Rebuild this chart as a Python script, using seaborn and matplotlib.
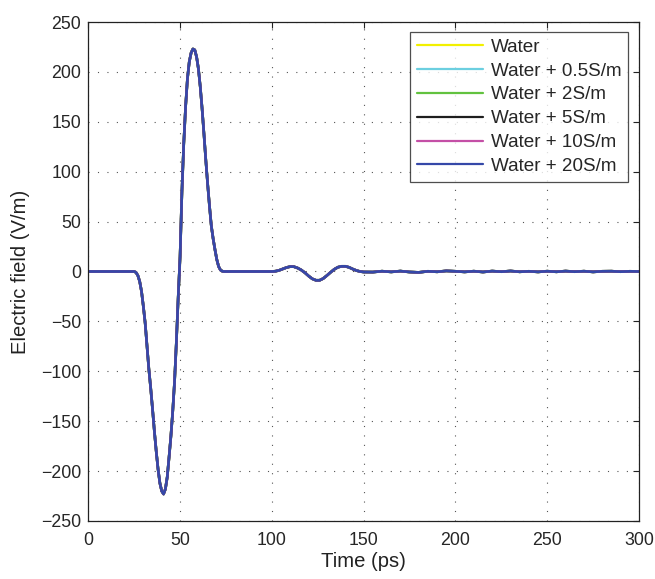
import numpy as np
import pandas as pd
import seaborn as sns
import matplotlib.pyplot as plt

# time axis (ps) and field (V/m)
time_ps = [0, 10, 20, 25, 26, 27, 28, 29, 30, 31, 32, 33, 34, 35, 36, 37, 38, 39, 40,
           41, 42, 43, 44, 45, 46, 47, 48, 49, 50, 51, 52, 53, 54, 55, 56, 57, 58,
           59, 60, 61, 62, 63, 64, 65, 66, 67, 68, 69, 70, 71, 72, 73, 74, 80, 90,
           100, 102, 104, 106, 108, 110, 112, 114, 116, 118, 120, 122, 124, 126, 128,
           130, 132, 134, 136, 138, 140, 142, 144, 146, 148, 150, 155, 160, 165, 170,
           175, 180, 185, 190, 195, 200, 205, 210, 215, 220, 225, 230, 235, 240, 245,
           250, 255, 260, 265, 270, 275, 280, 285, 290, 295, 300]
field = [0, 0, 0, 0, -1, -4, -10, -20, -35, -52, -75, -98, -117, -138, -160, -180, -198,
         -212, -220, -223, -218, -206, -186, -165, -140, -110, -70, -25, 15, 80, 128,
         165, 193, 210, 219, 223, 222, 215, 203, 185, 163, 138, 112, 88, 66, 46, 33,
         22, 12, 5, 1.5, 0.3, 0, 0, 0,
         0, 0.3, 1.2, 2.6, 4.0, 4.9, 4.8, 3.5, 1.5, -1.2, -4.5, -7.3, -8.8, -8.8, -7.0,
         -4.0, -0.8, 2.2, 4.3, 5.2, 5.2, 4.2, 2.5, 1.0, 0.0, -0.5, -0.6, 0.3, -0.4, 0.4,
         -0.5, -0.9, 0.2, -0.3, 0.6, 0.2, -0.4, 0.3, -0.5, 0.4, -0.2, 0.5, -0.3, 0.2,
         -0.4, 0.3, -0.3, 0.4, -0.2, 0.3, -0.4, 0.2, 0.3, -0.2, 0.2, 0]

media = ["Water", "Water + 0.5S/m", "Water + 2S/m", "Water + 5S/m",
         "Water + 10S/m", "Water + 20S/m"]
colors = ["#f2f000", "#6ccfe0", "#62c23f", "#1e1e1e", "#c44fa6", "#3548a8"]

# all six curves overlap in the reference
df = pd.DataFrame({
    "time": np.tile(time_ps, len(media)),
    "field": np.tile(field, len(media)),
    "medium": np.repeat(media, len(time_ps)),
})

sns.set_style("white")
plt.rcParams['font.family'] = ['Liberation Sans', 'DejaVu Sans']

fig = plt.figure(figsize=(6.55, 5.79), dpi=100)
ax = fig.add_axes([0.1348, 0.1002, 0.8408, 0.8618])

sns.lineplot(data=df, x="time", y="field", hue="medium", hue_order=media,
             palette=colors, linewidth=1.9, ax=ax, estimator=None, sort=False)

ax.set_xlim(0, 300)
ax.set_ylim(-250, 250)
ax.set_xticks(range(0, 301, 50))
ax.set_yticks(range(-250, 251, 50))
ax.tick_params(direction='in', top=True, right=True, length=4, labelsize=12.8,
               color='#222222')
ax.tick_params(axis='x', pad=8)
ax.tick_params(axis='y', pad=5)
ax.grid(True, linestyle=(0, (1, 7.5)), color='#555555', linewidth=0.8)
for s in ax.spines.values():
    s.set_color('#222222')
    s.set_linewidth(0.9)

ax.set_xlabel("Time (ps)", fontsize=14.6, color='#222222', labelpad=2)
ax.set_ylabel("Electric field (V/m)", fontsize=14.6, color='#222222', labelpad=8)

leg = ax.legend(loc='upper right', bbox_to_anchor=(0.98, 0.98), borderaxespad=0,
                fontsize=13.6, handlelength=3.5, frameon=True, fancybox=False,
                labelspacing=0.35, borderpad=0.35, handletextpad=0.4)
leg.get_frame().set_edgecolor('#222222')
leg.get_frame().set_linewidth(0.9)
for line in leg.get_lines():
    line.set_linewidth(1.6)

fig.savefig("out.png", dpi=100)
